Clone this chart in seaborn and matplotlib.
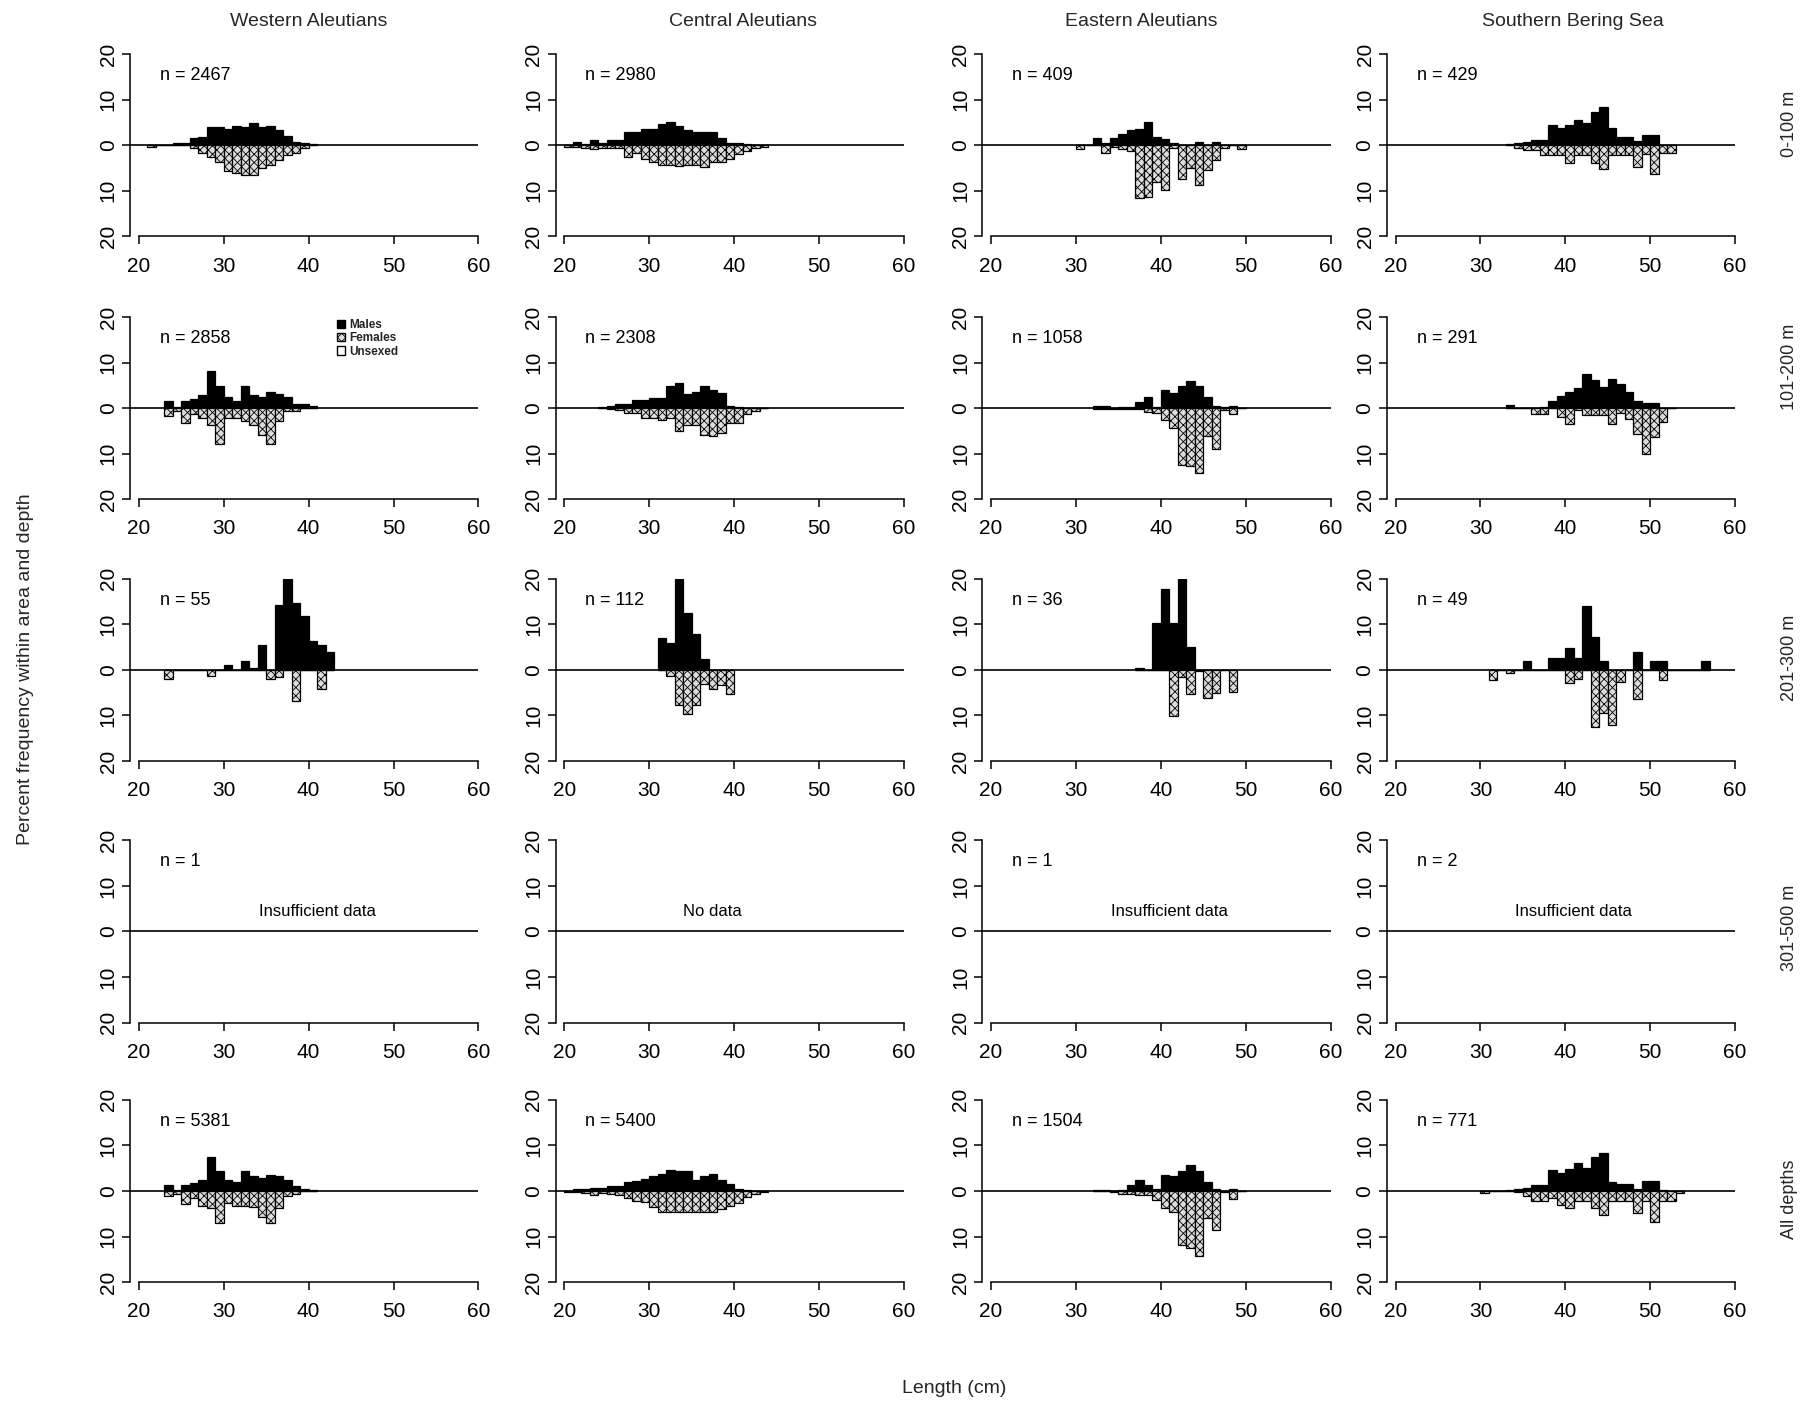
import numpy as np
import matplotlib
matplotlib.use("Agg")
import matplotlib.pyplot as plt
from matplotlib.patches import Patch
import seaborn as sns

# ---------------- data ----------------
areas = ["Western Aleutians", "Central Aleutians", "Eastern Aleutians", "Southern Bering Sea"]
depths = ["0-100 m", "101-200 m", "201-300 m", "301-500 m", "All depths"]
length_ticks = [20, 30, 40, 50, 60]
percent_ticks = [-20, -10, 0, 10, 20]
percent_tick_labels = ["20", "10", "0", "10", "20"]

n_labels = [
    ["n = 2467", "n = 2980", "n = 409", "n = 429"],
    ["n = 2858", "n = 2308", "n = 1058", "n = 291"],
    ["n = 55", "n = 112", "n = 36", "n = 49"],
    ["n = 1", None, "n = 1", "n = 2"],
    ["n = 5381", "n = 5400", "n = 1504", "n = 771"],
]
notes_301_500 = ["Insufficient data", "No data", "Insufficient data", "Insufficient data"]

# percent frequency by 1-cm length class (first class = *_start); males up, females down
# 0-100 m
wa1_start = 21
wa1_m = [0, 0, 0, 0.6, 0.6, 1.5, 1.8, 4.0, 4.0, 3.6, 4.3, 4.0, 4.8, 4.0, 4.3, 3.3, 2.0, 0.8, 0.4, 0.3]
wa1_f = [0.4, 0, 0, 0, 0, 0.7, 1.8, 2.5, 3.7, 5.7, 6.1, 6.6, 6.6, 5.1, 4.4, 3.3, 2.2, 1.6, 0.7, 0]
ca1_start = 20
ca1_m = [0, 0.8, 0.3, 1.2, 0.4, 1.2, 1.2, 2.8, 2.8, 3.6, 3.6, 4.7, 5.1, 4.3, 3.3, 2.8, 2.8, 2.8, 1.7, 0.6, 0.6, 0.2, 0, 0]
ca1_f = [0.3, 0.3, 0.5, 0.8, 0.6, 0.5, 0.7, 2.5, 1.8, 3.0, 3.7, 4.3, 4.3, 4.6, 4.3, 4.3, 4.8, 3.7, 3.7, 3.0, 2.0, 1.3, 0.6, 0.4]
ea1_start = 30
ea1_m = [0, 0, 1.7, 0.6, 1.7, 2.5, 3.3, 3.6, 5.1, 1.9, 1.4, 0.6, 0, 0, 0.8, 0, 0.8, 0, 0, 0]
ea1_f = [0.8, 0, 0, 1.6, 0.3, 0.9, 1.2, 11.6, 11.3, 8.1, 9.8, 0.6, 7.4, 5.1, 8.7, 5.5, 3.3, 0.6, 0, 0.9]
sb1_start = 33
sb1_m = [0.3, 0.5, 0.8, 1.1, 1.1, 4.4, 3.8, 4.4, 5.5, 4.8, 7.4, 8.4, 3.7, 1.9, 1.9, 0.9, 2.2, 2.2, 0, 0]
sb1_f = [0, 0.5, 1.0, 1.0, 2.2, 2.2, 2.2, 4.0, 2.2, 2.2, 4.0, 5.3, 2.2, 2.2, 2.2, 4.7, 2.0, 6.4, 1.8, 1.8]

# 101-200 m
wa2_start = 23
wa2_m = [1.5, 0.2, 1.5, 2.0, 2.8, 8.2, 4.8, 2.4, 1.6, 4.8, 2.8, 2.4, 3.5, 3.1, 2.4, 0.9, 0.9, 0.5]
wa2_f = [1.7, 0.6, 3.2, 1.2, 2.1, 3.7, 7.9, 2.1, 2.1, 2.8, 3.6, 5.8, 7.9, 2.8, 0.7, 0.6, 0, 0]
ca2_start = 24
ca2_m = [0.2, 0.4, 0.9, 0.9, 1.8, 1.8, 2.2, 2.2, 4.8, 5.5, 3.1, 3.5, 4.8, 4.0, 3.3, 0.5, 0.3, 0, 0, 0]
ca2_f = [0, 0.3, 0.5, 1.0, 1.0, 2.1, 2.1, 2.7, 2.1, 5.1, 3.6, 3.6, 5.8, 6.2, 5.4, 3.2, 3.2, 1.3, 0.6, 0]
ea2_start = 32
ea2_m = [0.4, 0.4, 0, 0.2, 0.3, 1.4, 2.5, 0.3, 4.0, 3.3, 4.8, 5.9, 4.8, 2.4, 0.5, 0.3, 0.5, 0]
ea2_f = [0.3, 0.3, 0.1, 0.3, 0.3, 0.3, 0.8, 1.0, 2.5, 4.3, 12.4, 12.7, 14.2, 6.2, 9.0, 0.4, 1.2, 0]
sb2_start = 33
sb2_m = [0.6, 0, 0, 0, 0.3, 1.5, 2.7, 3.6, 4.4, 7.4, 6.1, 4.7, 6.4, 5.4, 3.6, 1.5, 1.1, 1.1, 0, 0]
sb2_f = [0, 0, 0, 1.3, 1.3, 0, 2.0, 3.5, 0.5, 1.5, 1.5, 1.5, 3.5, 1.0, 2.4, 5.7, 10.1, 6.4, 3.1, 0]

# 201-300 m
wa3_start = 23
wa3_m = [0, 0, 0, 0, 0, 0, 0, 1.1, 0, 2.0, 0.4, 5.4, 0, 14.3, 20.0, 14.7, 11.9, 6.3, 5.4, 3.9]
wa3_f = [1.9, 0, 0, 0, 0, 1.3, 0, 0, 0, 0, 0, 0, 1.9, 1.5, 0, 6.9, 0, 0, 4.1, 0]
ca3_start = 31
ca3_m = [7.0, 5.9, 20.0, 12.4, 7.8, 2.4, 0, 0, 0]
ca3_f = [0, 1.3, 7.8, 9.6, 7.8, 3.0, 4.2, 3.3, 5.4]
ea3_start = 37
ea3_m = [0.4, 0, 10.3, 17.8, 10.3, 20.0, 5.0, 0, 0, 0, 0, 0]
ea3_f = [0, 0, 0, 0, 10.2, 1.6, 5.2, 0.3, 6.1, 5.1, 0, 4.9]
sb3_start = 31
sb3_m = [0, 0, 0, 0, 2.0, 0, 0, 2.5, 2.5, 4.8, 2.5, 14.0, 7.3, 2.0, 0, 0, 0, 3.9, 0, 2.0, 2.0, 0, 0, 0, 0, 2.0]
sb3_f = [2.2, 0, 0.7, 0, 0, 0, 0, 0, 0, 2.8, 2.1, 0, 12.6, 9.5, 12.1, 2.7, 0, 6.4, 0, 0, 2.2, 0, 0, 0, 0, 0]

# All depths
wa5_start = 23
wa5_m = [1.3, 0.2, 1.3, 1.7, 2.5, 7.5, 4.3, 2.5, 2.0, 4.3, 3.4, 2.8, 3.6, 3.4, 2.5, 1.0, 0.4, 0.2]
wa5_f = [1.1, 0.7, 2.8, 1.5, 3.2, 3.7, 7.1, 2.6, 3.2, 3.2, 3.5, 5.7, 7.1, 3.7, 1.1, 0.7, 0, 0]
ca5_start = 20
ca5_m = [0, 0.4, 0.4, 0.6, 0.6, 1.0, 1.0, 1.9, 2.2, 2.6, 3.4, 3.7, 4.7, 4.3, 4.3, 2.5, 3.4, 3.7, 2.5, 1.5, 0.4, 0.2, 0, 0]
ca5_f = [0.2, 0.3, 0.4, 0.8, 0.5, 0.6, 0.9, 1.5, 2.2, 2.5, 3.5, 4.7, 4.7, 4.5, 4.7, 4.7, 4.5, 4.7, 4.0, 3.2, 2.6, 1.3, 0.7, 0.3]
ea5_start = 32
ea5_m = [0.3, 0.3, 0, 0.3, 1.3, 2.5, 1.3, 0.5, 3.6, 3.2, 4.3, 5.6, 4.3, 1.9, 0.4, 0, 0.4, 0]
ea5_f = [0, 0, 0.3, 0.6, 0.6, 0.8, 0.8, 2.0, 3.7, 4.7, 11.9, 12.5, 14.3, 6.0, 8.6, 0.3, 1.7, 0]
sb5_start = 30
sb5_m = [0, 0, 0, 0.2, 0.5, 0.6, 1.3, 1.3, 4.6, 3.9, 4.8, 6.1, 5.0, 7.4, 8.3, 1.9, 1.6, 1.6, 0.5, 2.2, 2.2, 0.3, 0, 0]
sb5_f = [0.4, 0, 0, 0, 0.3, 1.1, 2.2, 2.2, 1.5, 3.0, 3.7, 2.2, 2.2, 3.7, 5.2, 2.2, 2.2, 2.2, 4.8, 2.1, 6.7, 2.1, 2.2, 0.4]

panels = [
    [(wa1_start, wa1_m, wa1_f), (ca1_start, ca1_m, ca1_f), (ea1_start, ea1_m, ea1_f), (sb1_start, sb1_m, sb1_f)],
    [(wa2_start, wa2_m, wa2_f), (ca2_start, ca2_m, ca2_f), (ea2_start, ea2_m, ea2_f), (sb2_start, sb2_m, sb2_f)],
    [(wa3_start, wa3_m, wa3_f), (ca3_start, ca3_m, ca3_f), (ea3_start, ea3_m, ea3_f), (sb3_start, sb3_m, sb3_f)],
    [None, None, None, None],
    [(wa5_start, wa5_m, wa5_f), (ca5_start, ca5_m, ca5_f), (ea5_start, ea5_m, ea5_f), (sb5_start, sb5_m, sb5_f)],
]

# ---------------- style ----------------
sns.set_theme(style="ticks")
plt.rcParams["font.family"] = ["Liberation Sans", "DejaVu Sans"]
plt.rcParams["hatch.linewidth"] = 0.6
plt.rcParams["axes.edgecolor"] = "black"

fig = plt.figure(figsize=(18.08, 14.02), dpi=100)
lefts = [0.0721, 0.3074, 0.5434, 0.7672]
bottoms = [0.8314, 0.6439, 0.4572, 0.2706, 0.0855]
W, H = 0.1925, 0.130

female_style = dict(facecolor="#dcdcdc", edgecolor="black", hatch="xxxx", linewidth=0.9, alpha=1)
male_style = dict(facecolor="black", edgecolor="black", linewidth=0.9, alpha=1)

for r in range(5):
    for c in range(4):
        ax = fig.add_axes([lefts[c], bottoms[r], W, H])
        ax.patch.set_alpha(0)
        panel = panels[r][c]
        if panel is not None:
            start, m, f = panel
            L = np.arange(start, start + len(m))
            edges = np.arange(start, start + len(m) + 1).astype(float).tolist()
            sns.histplot(x=L + 0.5, weights=np.asarray(m, float), bins=edges,
                         stat="count", ax=ax, **male_style)
            sns.histplot(x=L + 0.5, weights=-np.asarray(f, float), bins=edges,
                         stat="count", ax=ax, **female_style)
        ax.axhline(0, color="black", lw=1.2, zorder=5)
        ax.set_xlim(19, 60)
        ax.set_ylim(-20, 20)
        ax.set_xlabel("")
        ax.set_ylabel("")
        sns.despine(ax=ax)
        ax.spines["bottom"].set_bounds(20, 60)
        ax.spines["left"].set_bounds(-20, 20)
        for s in ("bottom", "left"):
            ax.spines[s].set_linewidth(1.1)
            ax.spines[s].set_color("black")
        ax.set_xticks(length_ticks)
        ax.set_xticklabels([str(t) for t in length_ticks])
        ax.set_yticks(percent_ticks)
        ax.set_yticklabels(percent_tick_labels, rotation=90, va="center")
        ax.tick_params(direction="out", length=6, width=1.1, labelsize=15, colors="black")
        ax.tick_params(axis="x", pad=8.5)
        ax.tick_params(axis="y", pad=3)
        ax.grid(False)

        lab = n_labels[r][c]
        if lab:
            ax.text(22.5, 15.3, lab, fontsize=13, va="center", ha="left", color="black")
        if r == 3:
            ax.text(41 if c != 1 else 37.5, 4.3, notes_301_500[c], fontsize=12,
                    ha="center", va="center", color="black")
        if r == 1 and c == 0:
            handles = [Patch(facecolor="black", edgecolor="black"),
                       Patch(facecolor="#dcdcdc", edgecolor="black", hatch="xxxx"),
                       Patch(facecolor="white", edgecolor="black")]
            ax.legend(handles, ["Males", "Females", "Unsexed"], loc="upper left",
                      bbox_to_anchor=(42.6, 20.8), bbox_transform=ax.transData,
                      frameon=False, handlelength=0.7, handleheight=0.7,
                      handletextpad=0.4, labelspacing=0.1, borderpad=0,
                      prop={"weight": "bold", "size": 8.5})

title_x = [0.171, 0.411, 0.631, 0.870]
for c, name in enumerate(areas):
    fig.text(title_x[c], 0.985, name, ha="center", va="center", fontsize=14)

row_label_y = [0.912, 0.7385, 0.531, 0.338, 0.1447]
for r, name in enumerate(depths):
    fig.text(0.9898, row_label_y[r], name, rotation=90, ha="center", va="center", fontsize=13)

fig.text(0.014, 0.523, "Percent frequency within area and depth", rotation=90,
         ha="center", va="center", fontsize=14)
fig.text(0.528, 0.0099, "Length (cm)", ha="center", va="center", fontsize=14)

fig.savefig("out.png", dpi=100, facecolor="white")
